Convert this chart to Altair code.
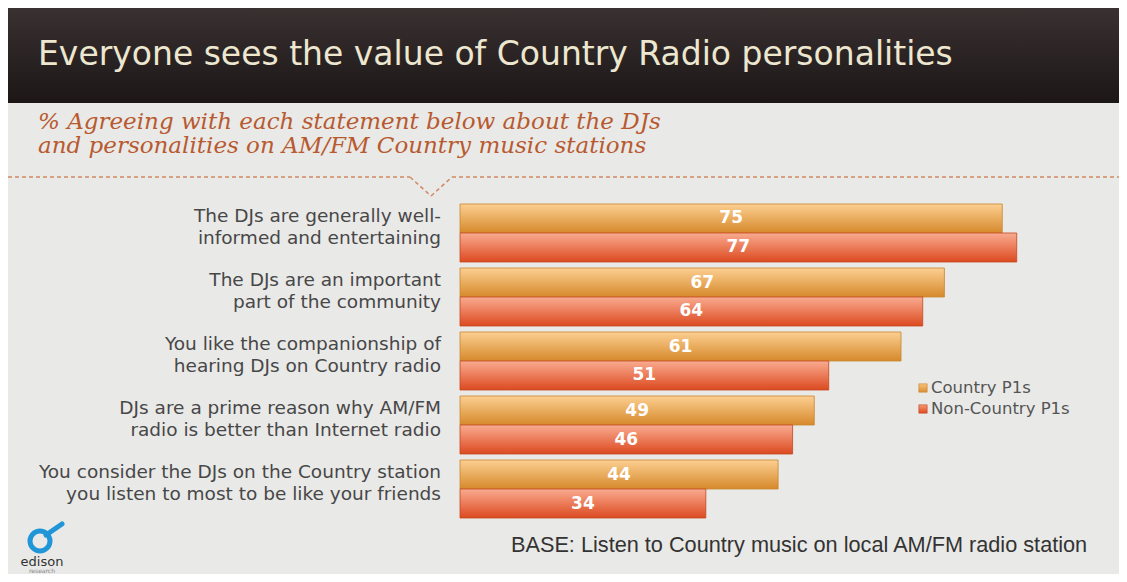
import altair as alt
import pandas as pd

# ---------------- data ----------------
statements = [
    "The DJs are generally well-\ninformed and entertaining",
    "The DJs are an important\npart of the community",
    "You like the companionship of\nhearing DJs on Country radio",
    "DJs are a prime reason why AM/FM\nradio is better than Internet radio",
    "You consider the DJs on the Country station\nyou listen to most to be like your friends",
]
series = ["Country P1s", "Non-Country P1s"]
country = [75, 67, 61, 49, 44]
non_country = [77, 64, 51, 46, 34]

title_text = "Everyone sees the value of Country Radio personalities"
subtitle_lines = [
    "% Agreeing with each statement below about the DJs",
    "and personalities on AM/FM Country music stations",
]
base_note = "BASE: Listen to Country music on local AM/FM radio station"
logo_name = "edison"
logo_sub = "research"

df = pd.DataFrame({
    "statement": statements * 2,
    "series": [series[0]] * len(statements) + [series[1]] * len(statements),
    "value": country + non_country,
})

one = pd.DataFrame({"k": [0]})

W, H = 1111, 566
BG = "#e9e9e7"

x_scale = alt.Scale(domain=[0, 100], range=[452, 1175])
y_scale = alt.Scale(domain=statements, range=[196, 510], paddingInner=0.094, paddingOuter=0)
yo_scale = alt.Scale(domain=series, paddingInner=0, paddingOuter=0)


def grad(top, bottom):
    return alt.Gradient(
        gradient="linear",
        stops=[alt.GradientStop(offset=0, color=top), alt.GradientStop(offset=1, color=bottom)],
        x1=0, x2=0, y1=0, y2=1,
    )


# ---------------- decorations ----------------
header = alt.Chart(one).mark_rect(color=grad("#3a3131", "#1c1616")).encode(
    x=alt.value(0), x2=alt.value(W), y=alt.value(0), y2=alt.value(95)
)

title = alt.Chart(pd.DataFrame({"t": [title_text]})).mark_text(
    align="left", baseline="alphabetic", font="DejaVu Sans", fontSize=33, color="#ede7d0"
).encode(x=alt.value(30), y=alt.value(57), text="t:N")

subtitle = alt.Chart(pd.DataFrame({"t": ["\n".join(subtitle_lines)]})).mark_text(
    align="left", baseline="alphabetic", font="DejaVu Serif", fontStyle="italic",
    fontSize=23, lineHeight=24, lineBreak="\n", color="#b85a30"
).encode(x=alt.value(30), y=alt.value(121), text="t:N")

dash_col = "#cf8a62"
dash1 = alt.Chart(one).mark_rule(color=dash_col, strokeDash=[4, 3], strokeWidth=1.5).encode(
    x=alt.value(0), x2=alt.value(402), y=alt.value(169))
dash2 = alt.Chart(one).mark_rule(color=dash_col, strokeDash=[4, 3], strokeWidth=1.5).encode(
    x=alt.value(444), x2=alt.value(W), y=alt.value(169))
notch1 = alt.Chart(one).mark_rule(color=dash_col, strokeDash=[4, 3], strokeWidth=1.5).encode(
    x=alt.value(402), y=alt.value(169), x2=alt.value(423), y2=alt.value(188))
notch2 = alt.Chart(one).mark_rule(color=dash_col, strokeDash=[4, 3], strokeWidth=1.5).encode(
    x=alt.value(423), y=alt.value(188), x2=alt.value(444), y2=alt.value(169))

# ---------------- bars ----------------
enc_y = alt.Y("statement:N", scale=y_scale, axis=None, sort=statements)
enc_yo = alt.YOffset("series:N", scale=yo_scale, sort=series)

bars_c = alt.Chart(df).transform_filter(alt.datum.series == series[0]).mark_bar(
    color=grad("#fccf92", "#d6892b"), stroke="#c98530", strokeWidth=0.8
).encode(
    x=alt.X("value:Q", scale=x_scale, axis=None),
    y=enc_y, yOffset=enc_yo,
)
bars_n = alt.Chart(df).transform_filter(alt.datum.series == series[1]).mark_bar(
    color=grad("#f9ab90", "#dc4a20"), stroke="#c4481f", strokeWidth=0.8
).encode(
    x=alt.X("value:Q", scale=x_scale, axis=None),
    y=enc_y, yOffset=enc_yo,
)

values = alt.Chart(df).transform_calculate(mid="datum.value / 2").mark_text(
    font="DejaVu Sans", fontWeight="bold", fontSize=17, color="white", baseline="middle"
).encode(
    x=alt.X("mid:Q", scale=x_scale, axis=None),
    y=enc_y, yOffset=enc_yo,
    text=alt.Text("value:Q"),
)

labels = alt.Chart(pd.DataFrame({"statement": statements})).mark_text(
    align="right", baseline="middle", lineBreak="\n", lineHeight=22, dy=-17,
    font="DejaVu Sans", fontSize=18.5, color="#474747"
).encode(
    x=alt.value(433),
    y=enc_y,
    text="statement:N",
)

# ---------------- legend ----------------
leg_df = pd.DataFrame({"series": series})
leg_sq_c = alt.Chart(leg_df).transform_filter(alt.datum.series == series[0]).mark_square(
    size=70, color=grad("#f6c27a", "#dc8e30"), opacity=1, stroke="#c98530", strokeWidth=0.6
).encode(x=alt.value(915), y=alt.value(380))
leg_sq_n = alt.Chart(leg_df).transform_filter(alt.datum.series == series[1]).mark_square(
    size=70, color=grad("#f49a78", "#dc4a20"), opacity=1, stroke="#c4481f", strokeWidth=0.6
).encode(x=alt.value(915), y=alt.value(401))
leg_t_c = alt.Chart(leg_df).transform_filter(alt.datum.series == series[0]).mark_text(
    align="left", baseline="middle", font="DejaVu Sans", fontSize=16.5, color="#555555"
).encode(x=alt.value(923), y=alt.value(380), text="series:N")
leg_t_n = alt.Chart(leg_df).transform_filter(alt.datum.series == series[1]).mark_text(
    align="left", baseline="middle", font="DejaVu Sans", fontSize=16.5, color="#555555"
).encode(x=alt.value(923), y=alt.value(401), text="series:N")

# ---------------- footer ----------------
footer = alt.Chart(pd.DataFrame({"t": [base_note]})).mark_text(
    align="left", baseline="alphabetic", font="Liberation Sans", fontSize=21.7, color="#333333"
).encode(x=alt.value(503), y=alt.value(544), text="t:N")

logo_ring = alt.Chart(one).mark_point(
    shape="circle", size=400, filled=False, stroke="#2096d8", strokeWidth=5, opacity=1
).encode(x=alt.value(32), y=alt.value(533))
logo_tail = alt.Chart(one).mark_rule(color="#2096d8", strokeWidth=5, strokeCap="round").encode(
    x=alt.value(38), y=alt.value(527), x2=alt.value(54), y2=alt.value(516))
logo_t = alt.Chart(pd.DataFrame({"t": [logo_name]})).mark_text(
    align="center", baseline="alphabetic", font="DejaVu Sans", fontSize=13, color="#333333"
).encode(x=alt.value(34), y=alt.value(558), text="t:N")
logo_s = alt.Chart(pd.DataFrame({"t": [logo_sub]})).mark_text(
    align="center", baseline="alphabetic", font="DejaVu Sans", fontSize=6, color="#888888"
).encode(x=alt.value(34), y=alt.value(565), text="t:N")

chart = alt.layer(
    header, title, subtitle, dash1, dash2, notch1, notch2,
    bars_c, bars_n, values, labels,
    leg_sq_c, leg_sq_n, leg_t_c, leg_t_n,
    footer, logo_ring, logo_tail, logo_t, logo_s,
).properties(
    width=W, height=H,
    autosize=alt.AutoSizeParams(type="none"),
    padding=0,
).configure(background=BG).configure_view(stroke=None)

chart.save("out.html", embed_options={"renderer": "svg", "actions": False})
